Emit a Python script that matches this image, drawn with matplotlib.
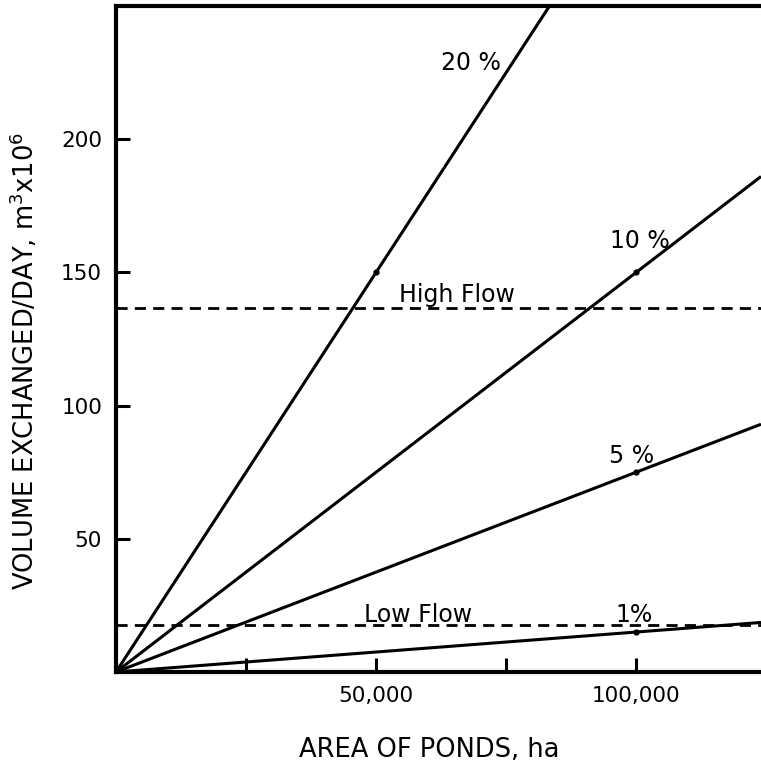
import numpy as np
import matplotlib.pyplot as plt

plt.rcParams['font.family'] = ['DejaVu Sans']

# Water exchange rate (% of pond volume per day) and the resulting daily volume
# at 100,000 ha of ponds, in m^3 x 10^6
exchange_labels = ["1%", "5 %", "10 %", "20 %"]
volume_at_100k = [15, 75, 150, 300]
# area (ha) where each line carries its dot
dot_area = [100000, 100000, 100000, 50000]

# river flow references, m^3 x 10^6 per day
high_flow = 136.5
low_flow = 17.5

x_ticks = [25000, 50000, 75000, 100000]
x_tick_labels = ["", "50,000", "", "100,000"]
y_ticks = [50, 100, 150, 200]
y_tick_labels = ["50", "100", "150", "200"]

x_max = 124000
y_max = 250

fig = plt.figure(figsize=(7.61, 7.67), dpi=100)
ax = fig.add_axes([116 / 761, 95 / 767, 645 / 761, 666 / 767])

area = np.array([0, x_max])
for v100, xd in zip(volume_at_100k, dot_area):
    slope = v100 / 100000
    ax.plot(area, slope * area, color='black', lw=2.2, solid_capstyle='butt')
    ax.plot([xd], [slope * xd], 'o', color='black', ms=3.5)

for level in (high_flow, low_flow):
    ax.plot(area, [level, level], color='black', lw=2.0,
            linestyle=(0, (4, 2.6)))

# labels on the lines
txt = dict(fontsize=17, color='black', va='baseline')
ax.text(65600, 138.8, "High Flow", ha='center', **txt)
ax.text(58000, 18.8, "Low Flow", ha='center', **txt)
ax.text(99600, 18.8, exchange_labels[0], ha='center', **txt)
ax.text(99200, 78.5, exchange_labels[1], ha='center', **txt)
ax.text(100800, 159.2, exchange_labels[2], ha='center', **txt)
ax.text(74000, 226.0, exchange_labels[3], ha='right', **txt)

ax.set_xlim(0, x_max)
ax.set_ylim(0, y_max)
ax.set_xticks(x_ticks)
ax.set_xticklabels(x_tick_labels)
ax.set_yticks(y_ticks)
ax.set_yticklabels(y_tick_labels)
ax.tick_params(direction='in', length=10, width=2.2, labelsize=15.5,
               pad=10)

for side in ('left', 'bottom', 'top'):
    ax.spines[side].set_linewidth(3)
ax.spines['right'].set_visible(False)

ax.set_xlabel("AREA OF PONDS, ha", fontsize=18.5)
ax.set_ylabel("VOLUME EXCHANGED/DAY, m$^3$x10$^6$", fontsize=18.5)
ax.xaxis.set_label_coords(0.485, -0.097)
ax.yaxis.set_label_coords(-0.118, 0.467)

fig.savefig("out.png", dpi=100)
